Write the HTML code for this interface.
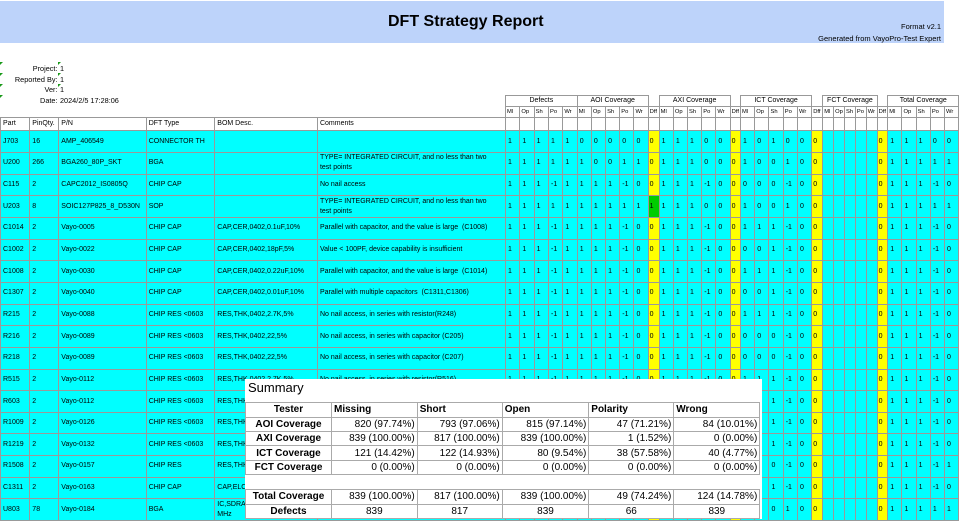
<!DOCTYPE html>
<html><head><meta charset="utf-8">
<style>
html,body{margin:0;padding:0}
body{width:959px;height:519px;overflow:hidden;background:#fff;position:relative;font-family:"Liberation Sans",Arial,sans-serif;color:#000}
.band{position:absolute;left:0;top:1px;width:944px;height:42px;background:#bdd3fa}
.title{position:absolute;left:388px;top:13.5px;font-size:16px;line-height:16px;font-weight:bold;white-space:nowrap}
.fmt{position:absolute;right:18px;font-size:7.5px;line-height:7.5px;white-space:nowrap;text-align:right}
.lab{position:absolute;left:0;width:57.5px;text-align:right;font-size:7.3px;line-height:7.3px;white-space:nowrap}
.val{position:absolute;left:60px;font-size:7.3px;line-height:7.3px;white-space:nowrap}
.tri{position:absolute;width:0;height:0;border-top:3px solid #1a9a1a;border-right:3px solid transparent}
table.g{position:absolute;left:0;top:95px;border-collapse:collapse;table-layout:fixed;width:964.3px;font-size:7px}
table.g td{border:1px solid #999;padding:0 0 0 2px;white-space:nowrap;overflow:hidden;vertical-align:middle;line-height:10px}
table.g td.nb{border:none}
table.g td.nt{border-top:none;border-bottom:none}
table.g tr.h1{height:11px}
table.g tr.h1 td{text-align:center;padding:0;font-size:7px}
table.g tr.h2{height:10px}
table.g tr.h2 td{font-size:5.8px;padding-left:1px}
table.g tr.h3{height:13.3px}
table.g tr.d{height:21.67px}
table.g tr.d td{background:#00ffff}
table.g tr.d td.y{background:#ffff00;padding-left:1px}
table.g tr.d td.gr{background:#00cc00;padding-left:1px}
.sum{position:absolute;left:245px;top:379px;width:517px;height:140px;background:#fff;overflow:hidden}
.sum .st{position:absolute;left:3px;top:1.8px;font-size:13px;line-height:13px;white-space:nowrap}
table.s{position:absolute;left:0;top:23.3px;border-collapse:collapse;table-layout:fixed;width:514.3px;font-size:10px}
table.s td{border:1px solid #aaa;height:13.4px;padding:0 2px;white-space:nowrap;line-height:11px;text-align:right}
table.s td.l{font-weight:bold;text-align:center}
table.s td.h{font-weight:bold;text-align:left}
table.s tr.c td{text-align:center}
table.s tr.b td{border-left:none;border-right:none}
</style></head><body>
<div class="band"></div>
<div class="title">DFT Strategy Report</div>
<div class="fmt" style="top:23.3px">Format v2.1</div>
<div class="fmt" style="top:34.5px">Generated from VayoPro-Test Expert</div>

<div class="tri" style="left:0;top:62px"></div>
<div class="tri" style="left:0;top:73px"></div>
<div class="tri" style="left:0;top:84px"></div>
<div class="tri" style="left:0;top:95px"></div>
<div class="tri" style="left:58px;top:62px"></div>
<div class="tri" style="left:58px;top:73px"></div>
<div class="tri" style="left:58px;top:84px"></div>

<div class="lab" style="top:64.6px">Project:</div><div class="val" style="top:64.6px">1</div>
<div class="lab" style="top:76px">Reported By:</div><div class="val" style="top:76px">1</div>
<div class="lab" style="top:86px">Ver:</div><div class="val" style="top:86px">1</div>
<div class="lab" style="top:97px">Date:</div><div class="val" style="top:97px">2024/2/5 17:28:06</div>

<table class="g">
<colgroup>
<col style="width:29.3px"><col style="width:29px"><col style="width:87.4px"><col style="width:68.6px"><col style="width:102.7px"><col style="width:188px">
<col style="width:14.34px"><col style="width:14.34px"><col style="width:14.34px"><col style="width:14.34px"><col style="width:14.34px">
<col style="width:14.2px"><col style="width:14.2px"><col style="width:14.2px"><col style="width:14.2px"><col style="width:14.2px">
<col style="width:11px">
<col style="width:14.2px"><col style="width:14.2px"><col style="width:14.2px"><col style="width:14.2px"><col style="width:14.2px">
<col style="width:10.3px">
<col style="width:14.26px"><col style="width:14.26px"><col style="width:14.26px"><col style="width:14.26px"><col style="width:14.26px">
<col style="width:11px">
<col style="width:10.88px"><col style="width:10.88px"><col style="width:10.88px"><col style="width:10.88px"><col style="width:10.88px">
<col style="width:10.6px">
<col style="width:14.2px"><col style="width:14.2px"><col style="width:14.2px"><col style="width:14.2px"><col style="width:14.2px">
<col style="width:6px">
</colgroup>
<tr class="h1"><td class="nb" colspan="6" rowspan="2"></td><td colspan="5">Defects</td><td colspan="5">AOI Coverage</td><td class="nt"></td><td colspan="5">AXI Coverage</td><td class="nt"></td><td colspan="5">ICT Coverage</td><td class="nt"></td><td colspan="5">FCT Coverage</td><td class="nt"></td><td colspan="5">Total Coverage</td><td class="nt"></td></tr>
<tr class="h2"><td>Ml</td><td>Op</td><td>Sh</td><td>Po</td><td>Wr</td><td>Ml</td><td>Op</td><td>Sh</td><td>Po</td><td>Wr</td><td>Dff</td><td>Ml</td><td>Op</td><td>Sh</td><td>Po</td><td>Wr</td><td>Dff</td><td>Ml</td><td>Op</td><td>Sh</td><td>Po</td><td>Wr</td><td>Dff</td><td>Ml</td><td>Op</td><td>Sh</td><td>Po</td><td>Wr</td><td>Dff</td><td>Ml</td><td>Op</td><td>Sh</td><td>Po</td><td>Wr</td><td>Dff</td></tr>
<tr class="h3"><td>Part</td><td>PinQty.</td><td>P/N</td><td>DFT Type</td><td>BOM Desc.</td><td>Comments</td><td></td><td></td><td></td><td></td><td></td><td></td><td></td><td></td><td></td><td></td><td></td><td></td><td></td><td></td><td></td><td></td><td></td><td></td><td></td><td></td><td></td><td></td><td></td><td></td><td></td><td></td><td></td><td></td><td></td><td></td><td></td><td></td><td></td><td></td><td></td></tr>

<tr class="d"><td>J703</td><td>16</td><td>AMP_406549</td><td>CONNECTOR TH</td><td></td><td></td><td>1</td><td>1</td><td>1</td><td>1</td><td>1</td><td>0</td><td>0</td><td>0</td><td>0</td><td>0</td><td class="y">0</td><td>1</td><td>1</td><td>1</td><td>0</td><td>0</td><td class="y">0</td><td>1</td><td>0</td><td>1</td><td>0</td><td>0</td><td class="y">0</td><td></td><td></td><td></td><td></td><td></td><td class="y">0</td><td>1</td><td>1</td><td>1</td><td>0</td><td>0</td><td></td></tr>
<tr class="d"><td>U200</td><td>266</td><td>BGA260_80P_SKT</td><td>BGA</td><td></td><td>TYPE= INTEGRATED CIRCUIT, and no less than two<br>test points</td><td>1</td><td>1</td><td>1</td><td>1</td><td>1</td><td>1</td><td>0</td><td>0</td><td>1</td><td>1</td><td class="y">0</td><td>1</td><td>1</td><td>1</td><td>0</td><td>0</td><td class="y">0</td><td>1</td><td>0</td><td>0</td><td>1</td><td>0</td><td class="y">0</td><td></td><td></td><td></td><td></td><td></td><td class="y">0</td><td>1</td><td>1</td><td>1</td><td>1</td><td>1</td><td class="gr"></td></tr>
<tr class="d"><td>C115</td><td>2</td><td>CAPC2012_IS0805Q</td><td>CHIP CAP</td><td></td><td>No nail access</td><td>1</td><td>1</td><td>1</td><td>-1</td><td>1</td><td>1</td><td>1</td><td>1</td><td>-1</td><td>0</td><td class="y">0</td><td>1</td><td>1</td><td>1</td><td>-1</td><td>0</td><td class="y">0</td><td>0</td><td>0</td><td>0</td><td>-1</td><td>0</td><td class="y">0</td><td></td><td></td><td></td><td></td><td></td><td class="y">0</td><td>1</td><td>1</td><td>1</td><td>-1</td><td>0</td><td></td></tr>
<tr class="d"><td>U203</td><td>8</td><td>SOIC127P825_8_D530N</td><td>SOP</td><td></td><td>TYPE= INTEGRATED CIRCUIT, and no less than two<br>test points</td><td>1</td><td>1</td><td>1</td><td>1</td><td>1</td><td>1</td><td>1</td><td>1</td><td>1</td><td>1</td><td class="gr">1</td><td>1</td><td>1</td><td>1</td><td>0</td><td>0</td><td class="y">0</td><td>1</td><td>0</td><td>0</td><td>1</td><td>0</td><td class="y">0</td><td></td><td></td><td></td><td></td><td></td><td class="y">0</td><td>1</td><td>1</td><td>1</td><td>1</td><td>1</td><td class="gr"></td></tr>
<tr class="d"><td>C1014</td><td>2</td><td>Vayo-0005</td><td>CHIP CAP</td><td>CAP,CER,0402,0.1uF,10%</td><td>Parallel with capacitor, and the value is large&nbsp; (C1008)</td><td>1</td><td>1</td><td>1</td><td>-1</td><td>1</td><td>1</td><td>1</td><td>1</td><td>-1</td><td>0</td><td class="y">0</td><td>1</td><td>1</td><td>1</td><td>-1</td><td>0</td><td class="y">0</td><td>1</td><td>1</td><td>1</td><td>-1</td><td>0</td><td class="y">0</td><td></td><td></td><td></td><td></td><td></td><td class="y">0</td><td>1</td><td>1</td><td>1</td><td>-1</td><td>0</td><td></td></tr>
<tr class="d"><td>C1002</td><td>2</td><td>Vayo-0022</td><td>CHIP CAP</td><td>CAP,CER,0402,18pF,5%</td><td>Value &lt; 100PF, device capability is insufficient</td><td>1</td><td>1</td><td>1</td><td>-1</td><td>1</td><td>1</td><td>1</td><td>1</td><td>-1</td><td>0</td><td class="y">0</td><td>1</td><td>1</td><td>1</td><td>-1</td><td>0</td><td class="y">0</td><td>0</td><td>0</td><td>1</td><td>-1</td><td>0</td><td class="y">0</td><td></td><td></td><td></td><td></td><td></td><td class="y">0</td><td>1</td><td>1</td><td>1</td><td>-1</td><td>0</td><td></td></tr>
<tr class="d"><td>C1008</td><td>2</td><td>Vayo-0030</td><td>CHIP CAP</td><td>CAP,CER,0402,0.22uF,10%</td><td>Parallel with capacitor, and the value is large&nbsp; (C1014)</td><td>1</td><td>1</td><td>1</td><td>-1</td><td>1</td><td>1</td><td>1</td><td>1</td><td>-1</td><td>0</td><td class="y">0</td><td>1</td><td>1</td><td>1</td><td>-1</td><td>0</td><td class="y">0</td><td>1</td><td>1</td><td>1</td><td>-1</td><td>0</td><td class="y">0</td><td></td><td></td><td></td><td></td><td></td><td class="y">0</td><td>1</td><td>1</td><td>1</td><td>-1</td><td>0</td><td></td></tr>
<tr class="d"><td>C1307</td><td>2</td><td>Vayo-0040</td><td>CHIP CAP</td><td>CAP,CER,0402,0.01uF,10%</td><td>Parallel with multiple capacitors&nbsp; (C1311,C1306)</td><td>1</td><td>1</td><td>1</td><td>-1</td><td>1</td><td>1</td><td>1</td><td>1</td><td>-1</td><td>0</td><td class="y">0</td><td>1</td><td>1</td><td>1</td><td>-1</td><td>0</td><td class="y">0</td><td>0</td><td>0</td><td>1</td><td>-1</td><td>0</td><td class="y">0</td><td></td><td></td><td></td><td></td><td></td><td class="y">0</td><td>1</td><td>1</td><td>1</td><td>-1</td><td>0</td><td></td></tr>
<tr class="d"><td>R215</td><td>2</td><td>Vayo-0088</td><td>CHIP RES &lt;0603</td><td>RES,THK,0402,2.7K,5%</td><td>No nail access, in series with resistor(R248)</td><td>1</td><td>1</td><td>1</td><td>-1</td><td>1</td><td>1</td><td>1</td><td>1</td><td>-1</td><td>0</td><td class="y">0</td><td>1</td><td>1</td><td>1</td><td>-1</td><td>0</td><td class="y">0</td><td>1</td><td>1</td><td>1</td><td>-1</td><td>0</td><td class="y">0</td><td></td><td></td><td></td><td></td><td></td><td class="y">0</td><td>1</td><td>1</td><td>1</td><td>-1</td><td>0</td><td></td></tr>
<tr class="d"><td>R216</td><td>2</td><td>Vayo-0089</td><td>CHIP RES &lt;0603</td><td>RES,THK,0402,22,5%</td><td>No nail access, in series with capacitor (C205)</td><td>1</td><td>1</td><td>1</td><td>-1</td><td>1</td><td>1</td><td>1</td><td>1</td><td>-1</td><td>0</td><td class="y">0</td><td>1</td><td>1</td><td>1</td><td>-1</td><td>0</td><td class="y">0</td><td>0</td><td>0</td><td>0</td><td>-1</td><td>0</td><td class="y">0</td><td></td><td></td><td></td><td></td><td></td><td class="y">0</td><td>1</td><td>1</td><td>1</td><td>-1</td><td>0</td><td></td></tr>
<tr class="d"><td>R218</td><td>2</td><td>Vayo-0089</td><td>CHIP RES &lt;0603</td><td>RES,THK,0402,22,5%</td><td>No nail access, in series with capacitor (C207)</td><td>1</td><td>1</td><td>1</td><td>-1</td><td>1</td><td>1</td><td>1</td><td>1</td><td>-1</td><td>0</td><td class="y">0</td><td>1</td><td>1</td><td>1</td><td>-1</td><td>0</td><td class="y">0</td><td>0</td><td>0</td><td>0</td><td>-1</td><td>0</td><td class="y">0</td><td></td><td></td><td></td><td></td><td></td><td class="y">0</td><td>1</td><td>1</td><td>1</td><td>-1</td><td>0</td><td></td></tr>
<tr class="d"><td>R515</td><td>2</td><td>Vayo-0112</td><td>CHIP RES &lt;0603</td><td>RES,THK,0402,2.7K,5%</td><td>No nail access, in series with resistor(R516)</td><td>1</td><td>1</td><td>1</td><td>-1</td><td>1</td><td>1</td><td>1</td><td>1</td><td>-1</td><td>0</td><td class="y">0</td><td>1</td><td>1</td><td>1</td><td>-1</td><td>0</td><td class="y">0</td><td>1</td><td>1</td><td>1</td><td>-1</td><td>0</td><td class="y">0</td><td></td><td></td><td></td><td></td><td></td><td class="y">0</td><td>1</td><td>1</td><td>1</td><td>-1</td><td>0</td><td></td></tr>
<tr class="d"><td>R603</td><td>2</td><td>Vayo-0112</td><td>CHIP RES &lt;0603</td><td>RES,THK,0402,2.7K,5%</td><td>No nail access</td><td>1</td><td>1</td><td>1</td><td>-1</td><td>1</td><td>1</td><td>1</td><td>1</td><td>-1</td><td>0</td><td class="y">0</td><td>1</td><td>1</td><td>1</td><td>-1</td><td>0</td><td class="y">0</td><td>1</td><td>1</td><td>1</td><td>-1</td><td>0</td><td class="y">0</td><td></td><td></td><td></td><td></td><td></td><td class="y">0</td><td>1</td><td>1</td><td>1</td><td>-1</td><td>0</td><td></td></tr>
<tr class="d"><td>R1009</td><td>2</td><td>Vayo-0126</td><td>CHIP RES &lt;0603</td><td>RES,THK,0402,1K,5%</td><td>No nail access</td><td>1</td><td>1</td><td>1</td><td>-1</td><td>1</td><td>1</td><td>1</td><td>1</td><td>-1</td><td>0</td><td class="y">0</td><td>1</td><td>1</td><td>1</td><td>-1</td><td>0</td><td class="y">0</td><td>1</td><td>1</td><td>1</td><td>-1</td><td>0</td><td class="y">0</td><td></td><td></td><td></td><td></td><td></td><td class="y">0</td><td>1</td><td>1</td><td>1</td><td>-1</td><td>0</td><td></td></tr>
<tr class="d"><td>R1219</td><td>2</td><td>Vayo-0132</td><td>CHIP RES &lt;0603</td><td>RES,THK,0402,10K,5%</td><td>No nail access</td><td>1</td><td>1</td><td>1</td><td>-1</td><td>1</td><td>1</td><td>1</td><td>1</td><td>-1</td><td>0</td><td class="y">0</td><td>1</td><td>1</td><td>1</td><td>-1</td><td>0</td><td class="y">0</td><td>1</td><td>1</td><td>1</td><td>-1</td><td>0</td><td class="y">0</td><td></td><td></td><td></td><td></td><td></td><td class="y">0</td><td>1</td><td>1</td><td>1</td><td>-1</td><td>0</td><td></td></tr>
<tr class="d"><td>R1508</td><td>2</td><td>Vayo-0157</td><td>CHIP RES</td><td>RES,THK,0603,0,5%</td><td>No nail access</td><td>1</td><td>1</td><td>1</td><td>-1</td><td>1</td><td>1</td><td>1</td><td>1</td><td>-1</td><td>0</td><td class="y">0</td><td>1</td><td>1</td><td>1</td><td>-1</td><td>0</td><td class="y">0</td><td>0</td><td>0</td><td>0</td><td>-1</td><td>0</td><td class="y">0</td><td></td><td></td><td></td><td></td><td></td><td class="y">0</td><td>1</td><td>1</td><td>1</td><td>-1</td><td>1</td><td class="gr"></td></tr>
<tr class="d"><td>C1311</td><td>2</td><td>Vayo-0163</td><td>CHIP CAP</td><td>CAP,ELC,100uF,20%</td><td>No nail access</td><td>1</td><td>1</td><td>1</td><td>-1</td><td>1</td><td>1</td><td>1</td><td>1</td><td>-1</td><td>0</td><td class="y">0</td><td>1</td><td>1</td><td>1</td><td>-1</td><td>0</td><td class="y">0</td><td>1</td><td>1</td><td>1</td><td>-1</td><td>0</td><td class="y">0</td><td></td><td></td><td></td><td></td><td></td><td class="y">0</td><td>1</td><td>1</td><td>1</td><td>-1</td><td>0</td><td></td></tr>
<tr class="d"><td>U803</td><td>78</td><td>Vayo-0184</td><td>BGA</td><td>IC,SDRAM,256MBIT,133<br>MHz</td><td>TYPE= INTEGRATED CIRCUIT</td><td>1</td><td>1</td><td>1</td><td>1</td><td>1</td><td>1</td><td>1</td><td>1</td><td>1</td><td>1</td><td class="y">0</td><td>1</td><td>1</td><td>1</td><td>1</td><td>1</td><td class="y">0</td><td>0</td><td>0</td><td>0</td><td>1</td><td>0</td><td class="y">0</td><td></td><td></td><td></td><td></td><td></td><td class="y">0</td><td>1</td><td>1</td><td>1</td><td>1</td><td>1</td><td class="gr"></td></tr>
</table>

<div class="sum">
<div class="st">Summary</div>
<table class="s">
<colgroup><col style="width:86px"><col style="width:85.7px"><col style="width:85px"><col style="width:86.6px"><col style="width:85px"><col style="width:86px"></colgroup>
<tr><td class="l">Tester</td><td class="h">Missing</td><td class="h">Short</td><td class="h">Open</td><td class="h">Polarity</td><td class="h">Wrong</td></tr>
<tr><td class="l">AOI Coverage</td><td>820 (97.74%)</td><td>793 (97.06%)</td><td>815 (97.14%)</td><td>47 (71.21%)</td><td>84 (10.01%)</td></tr>
<tr><td class="l">AXI Coverage</td><td>839 (100.00%)</td><td>817 (100.00%)</td><td>839 (100.00%)</td><td>1 (1.52%)</td><td>0 (0.00%)</td></tr>
<tr><td class="l">ICT Coverage</td><td>121 (14.42%)</td><td>122 (14.93%)</td><td>80 (9.54%)</td><td>38 (57.58%)</td><td>40 (4.77%)</td></tr>
<tr><td class="l">FCT Coverage</td><td>0 (0.00%)</td><td>0 (0.00%)</td><td>0 (0.00%)</td><td>0 (0.00%)</td><td>0 (0.00%)</td></tr>
<tr class="b"><td colspan="6" style="height:14px"></td></tr>
<tr><td class="l">Total Coverage</td><td>839 (100.00%)</td><td>817 (100.00%)</td><td>839 (100.00%)</td><td>49 (74.24%)</td><td>124 (14.78%)</td></tr>
<tr class="c"><td class="l">Defects</td><td>839</td><td>817</td><td>839</td><td>66</td><td>839</td></tr>
</table>
</div>
</body></html>
